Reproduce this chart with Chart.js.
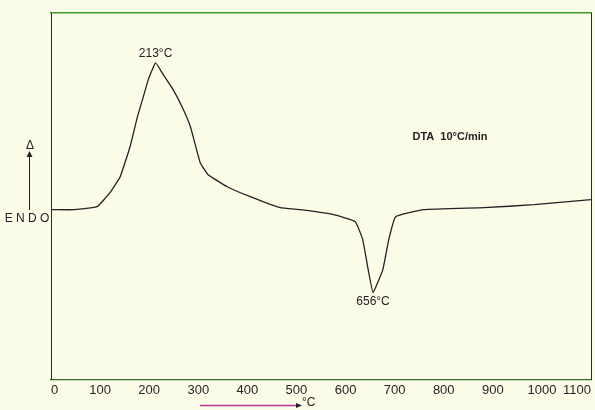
<!DOCTYPE html>
<html>
<head>
<meta charset="utf-8">
<script src="https://cdn.jsdelivr.net/npm/chart.js@4"></script>
<style>
  html, body { margin: 0; padding: 0; background: #fbfce8; }
  canvas { display: block; }
</style>
</head>
<body>
<canvas id="dta" width="595" height="410"></canvas>
<script>
// temperature (°C) and DTA signal (arbitrary units)
const temps = [0, 49, 94, 120, 141, 161, 176, 188, 198, 213, 229, 249, 267, 284, 304, 320, 359, 406, 467, 508, 576, 620, 635, 645, 656, 676, 688, 702, 759, 882, 984, 1100];
const signal = [170, 170, 173, 187, 203, 233, 263, 283, 300, 317, 305, 290, 273, 253, 217, 205, 193, 183, 172, 170, 165, 158, 140, 113, 87, 110, 140, 163, 170, 172, 175, 180];
const xTicks = [0, 100, 200, 300, 400, 500, 600, 700, 800, 900, 1000, 1100];
const peakLabels = [{ t: 213, text: "213°C", above: true }, { t: 656, text: "656°C", above: false }];

const points = temps.map((t, i) => ({ x: t, y: signal[i] }));

const ink = "#262026";

const extras = {
    id: "extras",
    beforeDraw(chart) {
        const ctx = chart.ctx;
        ctx.save();
        ctx.fillStyle = "#fbfce8";
        ctx.fillRect(0, 0, chart.width, chart.height);
        ctx.restore();
    },
    afterDraw(chart) {
        const ctx = chart.ctx;
        const xs = chart.scales.x, ys = chart.scales.y;
        ctx.save();
        ctx.fillStyle = ink;
        ctx.textAlign = "center";

        // peak labels
        ctx.font = "12px 'Liberation Sans'";
        peakLabels.forEach(p => {
            const i = temps.indexOf(p.t);
            const px = xs.getPixelForValue(p.t);
            const py = ys.getPixelForValue(signal[i]);
            ctx.textBaseline = p.above ? "bottom" : "top";
            ctx.fillText(p.text, px, p.above ? py - 3 : py + 3);
        });

        // run conditions
        ctx.font = "bold 11px 'Liberation Sans'";
        ctx.textBaseline = "middle";
        ctx.fillText("DTA  10°C/min", 450, 137);

        // ENDO arrow
        ctx.font = "12px 'Liberation Sans'";
        ctx.fillText("E N D O", 27, 219);
        ctx.strokeStyle = ink;
        ctx.lineWidth = 1;
        ctx.beginPath();
        ctx.moveTo(29.5, 210);
        ctx.lineTo(29.5, 153);
        ctx.stroke();
        ctx.beginPath();
        ctx.moveTo(26.5, 157);
        ctx.lineTo(29.5, 151);
        ctx.lineTo(32.5, 157);
        ctx.closePath();
        ctx.fill();
        ctx.fillText("Δ", 30, 146);

        // temperature arrow
        ctx.strokeStyle = "#b8359c";
        ctx.lineWidth = 1.3;
        ctx.beginPath();
        ctx.moveTo(200, 405.5);
        ctx.lineTo(298, 405.5);
        ctx.stroke();
        ctx.fillStyle = ink;
        ctx.beginPath();
        ctx.moveTo(296, 403);
        ctx.lineTo(302, 405.5);
        ctx.lineTo(296, 408);
        ctx.closePath();
        ctx.fill();
        ctx.textAlign = "left";
        ctx.font = "12px 'Liberation Sans'";
        ctx.fillText("°C", 302, 403);
        ctx.restore();
    }
};

new Chart(document.getElementById("dta"), {
    type: "line",
    data: {
        datasets: [{
            data: points,
            borderColor: ink,
            borderWidth: 1.3,
            pointRadius: 0,
            tension: 0.1,
            fill: false
        }]
    },
    options: {
        responsive: false,
        animation: false,
        layout: { padding: { left: 51, top: 13, right: 4, bottom: 9 } },
        plugins: { legend: { display: false }, tooltip: { enabled: false } },
        scales: {
            x: {
                type: "linear",
                min: 0,
                max: 1100,
                afterBuildTicks: s => { s.ticks = xTicks.map(v => ({ value: v })); },
                grid: { display: false, drawTicks: false },
                border: { display: true, color: "#2f6f2a", width: 1.3 },
                ticks: {
                    align: "inner",
                    padding: 3,
                    color: "#2a232a",
                    callback: v => String(v),
                    font: { family: "'Liberation Sans'", size: 13 }
                }
            },
            x2: {
                type: "linear",
                position: "top",
                min: 0,
                max: 1100,
                grid: { display: false, drawTicks: false },
                border: { display: true, color: "#3a9a2a", width: 1.5 },
                ticks: { display: false }
            },
            y: {
                min: 0,
                max: 367,
                grid: { display: false, drawTicks: false },
                border: { display: true, color: "#2a2a2a", width: 1 },
                ticks: { display: false }
            },
            y2: {
                position: "right",
                min: 0,
                max: 367,
                grid: { display: false, drawTicks: false },
                border: { display: true, color: "#2a2a2a", width: 1 },
                ticks: { display: false }
            }
        }
    },
    plugins: [extras]
});
</script>
</body>
</html>
